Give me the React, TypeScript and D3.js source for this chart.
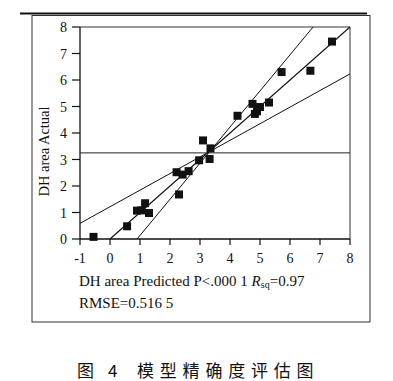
import React from "react";
import * as d3 from "d3";

const predicted = [-0.55, 0.57, 0.9, 1.05, 1.17, 1.3, 2.3, 2.22, 2.42, 2.62, 2.97, 3.1, 3.35, 3.32, 4.25, 4.75, 4.83, 4.9, 5.0, 5.3, 5.72, 6.68, 7.4];
const actual = [0.08, 0.48, 1.07, 1.08, 1.35, 0.98, 1.68, 2.52, 2.43, 2.56, 2.97, 3.72, 3.42, 3.02, 4.65, 5.1, 4.72, 4.82, 4.98, 5.15, 6.3, 6.35, 7.45];
const fitLine: [number, number][] = [[0, 0], [8, 8]];
const upperCurve: [number, number][] = [[0.9, 0], [6.77, 8]];
const lowerCurve: [number, number][] = [[-1, 0.59], [8, 6.23]];
const meanActual = 3.25;
const xTicks = [-1, 0, 1, 2, 3, 4, 5, 6, 7, 8];
const yTicks = [0, 1, 2, 3, 4, 5, 6, 7, 8];

export default function App() {
  const x = d3.scaleLinear().domain([-1, 8]).range([80, 350]);
  const y = d3.scaleLinear().domain([0, 8]).range([239, 27]);
  const line = d3.line<[number, number]>().x((d) => x(d[0])).y((d) => y(d[1]));
  const serif = "'Liberation Serif', 'Times New Roman', serif";
  const cjk = "'Noto Sans CJK SC', sans-serif";
  const sq = 8;
  return (
    <svg width={393} height={381} style={{ position: "absolute", left: 0, top: 0, background: "#fff" }}>
      {/* outer frame */}
      <line x1={20} x2={367} y1={13.5} y2={13.5} stroke="#111" strokeWidth={2.2} />
      <rect x={32} y={15.5} width={338} height={306.5} fill="none" stroke="#333" strokeWidth={1} />
      {/* plot box */}
      <line x1={x(-1)} x2={x(8)} y1={y(8)} y2={y(8)} stroke="#333" strokeWidth={1} />
      <line x1={x(8)} x2={x(8)} y1={y(8)} y2={y(0)} stroke="#333" strokeWidth={1} />
      <line x1={x(-1)} x2={x(-1)} y1={y(8)} y2={y(0)} stroke="#111" strokeWidth={1.3} />
      <line x1={x(-1)} x2={x(8)} y1={y(0)} y2={y(0)} stroke="#111" strokeWidth={1.3} />
      {/* ticks */}
      {xTicks.map((t) => (
        <g key={"x" + t}>
          <line x1={x(t)} x2={x(t)} y1={y(0)} y2={y(0) + 6} stroke="#111" strokeWidth={1.2} />
          <text x={x(t)} y={263} textAnchor="middle" fontFamily={serif} fontSize={14} fill="#111">{t}</text>
        </g>
      ))}
      {yTicks.map((t) => (
        <g key={"y" + t}>
          <line x1={x(-1) - 8} x2={x(-1)} y1={y(t)} y2={y(t)} stroke="#111" strokeWidth={1.2} />
          <text x={67} y={y(t) + 5} textAnchor="end" fontFamily={serif} fontSize={14} fill="#111">{t}</text>
        </g>
      ))}
      {/* mean line */}
      <line x1={x(-1)} x2={x(8)} y1={y(meanActual)} y2={y(meanActual)} stroke="#222" strokeWidth={1} />
      {/* fit and confidence lines */}
      <path d={line(fitLine) || ""} fill="none" stroke="#111" strokeWidth={1.1} />
      <path d={line(upperCurve) || ""} fill="none" stroke="#111" strokeWidth={1} />
      <path d={line(lowerCurve) || ""} fill="none" stroke="#111" strokeWidth={1} />
      {/* points */}
      {predicted.map((p, i) => (
        <rect key={i} x={x(p) - sq / 2} y={y(actual[i]) - sq / 2} width={sq} height={sq} fill="#111" />
      ))}
      {/* axis labels */}
      <text transform={`translate(49,${(105 + 198) / 2}) rotate(-90)`} textAnchor="middle" fontFamily={serif} fontSize={14.5} fill="#111">DH area Actual</text>
      <text x={79} y={286} fontFamily={serif} fontSize={15} fill="#111">
        DH area Predicted P&lt;.000 1 <tspan fontStyle="italic">R</tspan><tspan fontSize={10} dy={2}>sq</tspan><tspan dy={-2}>=0.97</tspan>
      </text>
      <text x={79} y={308} fontFamily={serif} fontSize={15} fill="#111">RMSE=0.516 5</text>
      {/* caption */}
      <text x={77} y={377} fontFamily={cjk} fontSize={17} fill="#111">图</text>
      <text x={108} y={377} fontFamily={cjk} fontSize={17} fill="#111">4</text>
      <text x={137} y={377} fontFamily={cjk} fontSize={17} letterSpacing={5.8} fill="#111">模型精确度评估图</text>
    </svg>
  );
}
